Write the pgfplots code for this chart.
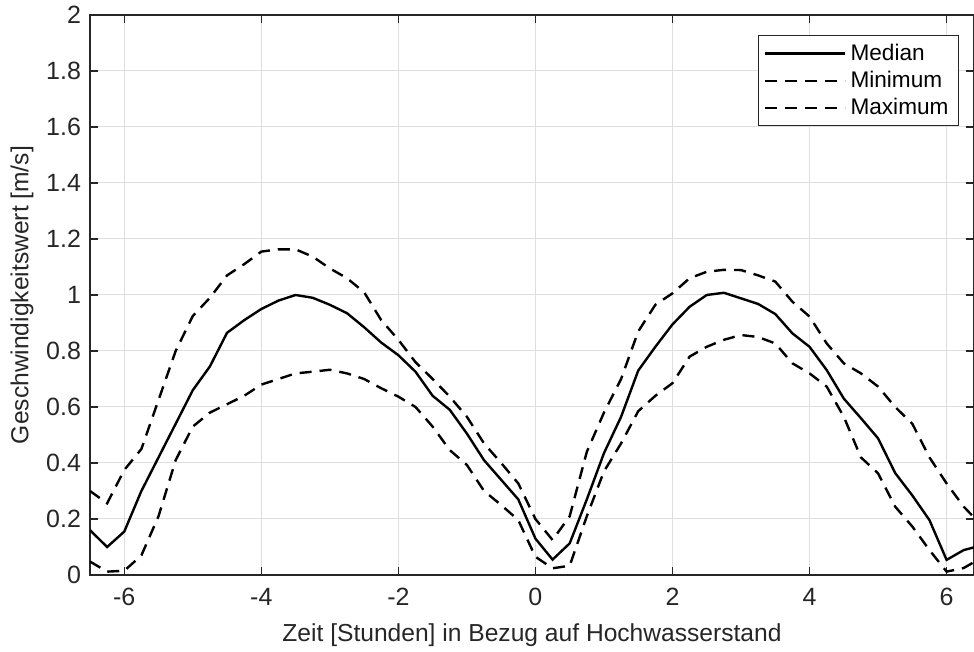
\documentclass[border=0pt]{standalone}
\usepackage{fontspec}
\setmainfont{Liberation Sans}
\usepackage{pgfplots}
\pgfplotsset{compat=1.18}
\definecolor{axgray}{HTML}{262626}
\definecolor{gridgray}{HTML}{DFDFDF}

\pgfplotstableread{
x     med    mn     mx
-6.5  0.160  0.048  0.300
-6.25 0.100  0.012  0.256
-6    0.155  0.015  0.375
-5.75 0.300  0.070  0.450
-5.5  0.420  0.210  0.625
-5.25 0.540  0.410  0.800
-5    0.660  0.530  0.925
-4.75 0.745  0.580  0.990
-4.5  0.865  0.610  1.070
-4.25 0.910  0.640  1.110
-4    0.950  0.680  1.155
-3.75 0.980  0.700  1.163
-3.5  1.000  0.720  1.163
-3.25 0.990  0.726  1.137
-3    0.965  0.733  1.095
-2.75 0.935  0.720  1.060
-2.5  0.885  0.700  1.010
-2.25 0.830  0.667  0.910
-2    0.785  0.637  0.840
-1.75 0.726  0.600  0.760
-1.5  0.640  0.530  0.700
-1.25 0.590  0.446  0.637
-1    0.505  0.393  0.565
-0.75 0.410  0.300  0.470
-0.5  0.340  0.250  0.400
-0.25 0.270  0.196  0.327
0     0.130  0.065  0.200
0.25  0.055  0.024  0.125
0.5   0.113  0.033  0.210
0.75  0.270  0.210  0.440
1     0.435  0.370  0.580
1.25  0.565  0.470  0.700
1.5   0.730  0.585  0.870
1.75  0.815  0.640  0.965
2     0.895  0.685  1.006
2.25  0.958  0.780  1.060
2.5   1.000  0.815  1.083
2.75  1.008  0.840  1.090
3     0.988  0.857  1.089
3.25  0.968  0.850  1.070
3.5   0.932  0.827  1.048
3.75  0.863  0.756  0.976
4     0.815  0.720  0.923
4.25  0.732  0.673  0.827
4.5   0.630  0.565  0.756
4.75  0.560  0.420  0.720
5     0.488  0.363  0.673
5.25  0.364  0.244  0.600
5.5   0.284  0.173  0.540
5.75  0.196  0.089  0.420
6     0.054  0.012  0.327
6.25  0.089  0.025  0.244
6.5   0.105  0.060  0.180
}\datatable

\begin{document}
\begin{tikzpicture}
\useasboundingbox (-45pt,-38.5pt) rectangle (442pt,287.5pt);
\begin{axis}[
    scale only axis,
    width=442pt, height=280pt,
    xmin=-6.5, xmax=6.4,
    ymin=0, ymax=2,
    xtick={-6,-4,-2,0,2,4,6},
    ytick={0,0.2,0.4,0.6,0.8,1,1.2,1.4,1.6,1.8,2},
    /pgf/number format/assume math mode=true,
    grid=major,
    grid style={color=gridgray, line width=0.5pt},
    axis line style={color=axgray, line width=0.6pt},
    tick style={color=axgray, line width=0.6pt},
    tick align=inside,
    major tick length=4pt,
    ticklabel style={font=\fontsize{12.5}{14}\selectfont, text=axgray},
    xticklabel style={yshift=-3pt},
    yticklabel style={xshift=-1pt},
    label style={font=\fontsize{12.3}{15}\selectfont, text=axgray},
    xlabel={Zeit [Stunden] in Bezug auf Hochwasserstand},
    ylabel={Geschwindigkeitswert [m/s]},
    xlabel style={at={(axis description cs:0.5,0)}, anchor=center, yshift=-30pt},
    ylabel style={at={(axis description cs:-0.077,0.5)}, anchor=center},
    legend style={
        at={(0.983,0.964)}, anchor=north east,
        draw=axgray, line width=0.5pt, fill=white,
        font=\fontsize{11.3}{13}\selectfont,
        row sep=0pt, inner xsep=3pt, inner ysep=2pt,
        cells={anchor=west, text=black},
    },
    legend cell align=left,
    legend image code/.code={
        \draw[#1, line width=1.2pt] (0pt,0pt) -- (40pt,0pt);
    },
]
\addplot[black, line width=1.2pt] table[x=x, y=med] {\datatable};
\addplot[black, line width=1.2pt, dash pattern=on 6pt off 4pt] table[x=x, y=mn] {\datatable};
\addplot[black, line width=1.2pt, dash pattern=on 6pt off 4pt] table[x=x, y=mx] {\datatable};
\legend{Median, Minimum, Maximum}
\end{axis}
\end{tikzpicture}
\end{document}
